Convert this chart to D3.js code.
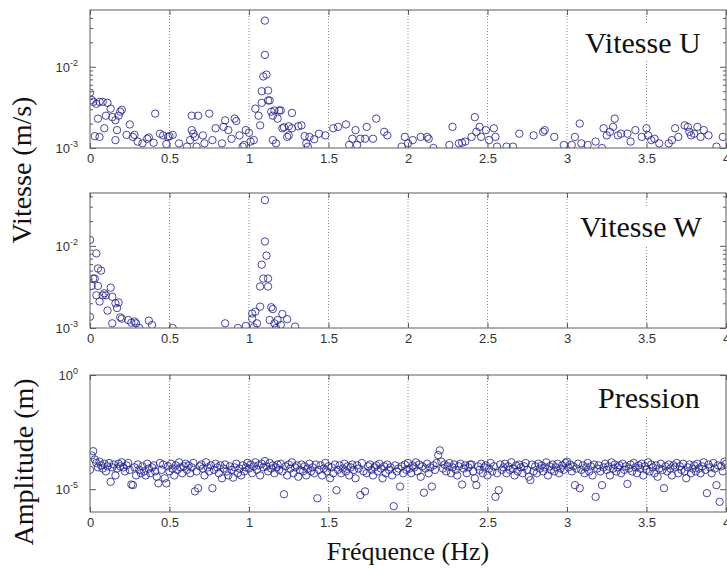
<!DOCTYPE html>
<html>
<head>
<meta charset="utf-8">
<script src="https://cdn.jsdelivr.net/npm/d3@7"></script>
<style>
    body { margin: 0; background: #fff; }
</style>
</head>
<body>
<div class="chart"></div>
<script>
// Size of the picture
const width = 727;
const height = 569;

// Frequency ticks (Hz)
const xTicks = [0, 0.5, 1, 1.5, 2, 2.5, 3, 3.5, 4];

// Vitesse U : [frequence (Hz), vitesse (x 1e-3 m/s)]
const vitesseU = [
    [0.00, 4.8], [0.01, 3.9], [0.02, 3.7], [0.03, 1.4], [0.04, 3.5], [0.05, 2.3], [0.06, 3.7], [0.06, 1.37],
    [0.08, 3.7], [0.09, 1.75], [0.10, 2.5], [0.11, 3.6], [0.13, 3.05], [0.14, 2.4], [0.16, 2.2], [0.16, 1.25],
    [0.17, 1.66], [0.18, 2.5], [0.19, 2.8], [0.20, 2.95], [0.23, 1.45], [0.25, 1.95], [0.27, 1.37], [0.28, 1.45],
    [0.30, 1.2], [0.33, 1.14], [0.36, 1.3], [0.37, 1.35], [0.40, 1.16], [0.41, 2.65], [0.44, 1.5], [0.46, 1.43],
    [0.48, 1.12], [0.49, 1.37], [0.50, 1.4], [0.52, 1.45], [0.56, 1.14], [0.61, 1.04], [0.63, 1.25], [0.64, 1.66],
    [0.64, 2.5], [0.65, 1.5], [0.66, 1.37], [0.67, 1.04], [0.68, 2.5], [0.71, 1.43], [0.72, 1.14], [0.75, 2.65],
    [0.77, 1.25], [0.79, 1.75], [0.83, 1.14], [0.84, 1.82], [0.85, 2.19], [0.87, 1.66], [0.89, 1.3], [0.91, 2.3],
    [0.92, 2.15], [0.94, 1.43], [0.96, 1.04], [0.97, 1.09], [0.98, 1.66], [1.00, 1.54], [1.01, 1.2], [1.03, 1.25],
    [1.04, 3.05], [1.06, 2.5], [1.07, 1.9], [1.08, 3.6], [1.08, 5.0], [1.09, 7.6], [1.10, 14], [1.10, 37],
    [1.11, 8.0], [1.12, 5.1], [1.12, 3.85], [1.13, 3.85], [1.14, 2.8], [1.15, 2.5], [1.15, 1.25], [1.16, 2.9],
    [1.17, 1.14], [1.18, 2.3], [1.19, 2.9], [1.20, 2.9], [1.21, 1.75], [1.22, 1.8], [1.24, 1.37], [1.25, 1.85],
    [1.25, 1.43], [1.27, 2.7], [1.27, 1.75], [1.31, 1.85], [1.33, 1.9], [1.35, 1.4], [1.36, 1.14], [1.37, 1.04],
    [1.38, 1.37], [1.41, 1.28], [1.44, 1.5], [1.48, 1.43], [1.53, 1.75], [1.56, 1.82], [1.61, 1.95], [1.63, 1.09],
    [1.65, 1.3], [1.67, 1.66], [1.68, 1.09], [1.70, 1.3], [1.73, 1.3], [1.74, 1.82], [1.78, 1.3], [1.80, 2.3],
    [1.85, 1.58], [1.87, 1.43], [1.96, 1.04], [1.98, 1.37], [2.00, 1.14], [2.03, 1.25], [2.08, 1.37], [2.12, 1.37],
    [2.13, 1.3], [2.16, 1.0], [2.26, 1.09], [2.28, 1.82], [2.32, 1.14], [2.34, 1.16], [2.36, 1.2], [2.40, 1.37],
    [2.42, 2.4], [2.43, 1.58], [2.45, 1.82], [2.46, 1.37], [2.49, 1.66], [2.51, 1.25], [2.54, 1.75], [2.55, 1.37],
    [2.56, 1.04], [2.62, 1.04], [2.66, 1.04], [2.70, 1.5], [2.79, 1.43], [2.85, 1.58], [2.86, 1.66], [2.92, 1.37],
    [2.98, 1.09], [3.03, 1.09], [3.05, 1.37], [3.08, 2.0], [3.09, 1.14], [3.13, 1.09], [3.18, 1.2], [3.22, 1.0],
    [3.23, 1.75], [3.25, 1.43], [3.27, 1.58], [3.29, 1.82], [3.30, 2.3], [3.32, 1.43], [3.34, 1.5], [3.38, 1.5],
    [3.40, 1.2], [3.43, 1.66], [3.47, 1.37], [3.50, 1.75], [3.51, 1.43], [3.53, 1.25], [3.55, 1.3], [3.58, 1.14],
    [3.64, 1.14], [3.66, 1.25], [3.68, 1.75], [3.70, 1.37], [3.74, 1.9], [3.76, 1.82], [3.77, 1.58], [3.78, 1.43],
    [3.80, 1.5], [3.82, 1.82], [3.84, 1.37], [3.86, 1.66], [3.89, 1.43], [3.94, 1.04], [3.98, 1.37]
];

// Vitesse W : [frequence (Hz), vitesse (x 1e-3 m/s)]
const vitesseW = [
    [0.00, 11.8], [0.00, 1.37], [0.01, 3.25], [0.02, 4.0], [0.03, 4.0], [0.04, 8.1], [0.04, 2.5], [0.05, 3.25],
    [0.05, 5.3], [0.06, 2.1], [0.07, 5.0], [0.08, 2.5], [0.09, 2.65], [0.10, 2.5], [0.11, 1.63], [0.13, 3.1],
    [0.14, 2.4], [0.14, 1.14], [0.16, 2.0], [0.17, 1.75], [0.18, 2.05], [0.19, 1.35], [0.20, 1.3], [0.24, 1.25],
    [0.26, 1.16], [0.28, 1.2], [0.29, 1.14], [0.31, 1.0], [0.37, 1.23], [0.39, 1.09], [0.52, 1.0], [0.85, 1.14],
    [0.93, 1.0], [0.98, 1.06], [1.02, 1.3], [1.02, 1.5], [1.03, 1.02], [1.04, 1.58], [1.05, 1.14], [1.07, 1.82],
    [1.07, 3.2], [1.08, 5.9], [1.09, 4.0], [1.10, 11.3], [1.10, 36], [1.11, 7.6], [1.12, 4.0], [1.12, 3.2],
    [1.13, 1.25], [1.14, 1.79], [1.15, 1.7], [1.16, 1.14], [1.17, 1.0], [1.18, 1.25], [1.20, 1.09], [1.21, 1.48],
    [1.24, 1.28], [1.29, 1.04]
];

// Pression : amplitude (x 1e-5 m), one value every 0.01 Hz from 0 to 4 Hz
const pressionStep = 0.01;
const pression = [
    7, 30, 46, 20, 14, 9, 16, 11, 8, 13, 6, 10, 14, 2.1, 9, 12, 4, 8, 13, 10,
    15, 9, 6, 11, 14, 7, 1.6, 1.5, 9, 4, 12, 7, 5, 10, 6, 4, 13, 8, 5, 9,
    11, 6, 3.5, 1.8, 14, 7, 12, 3, 1.8, 10, 6, 13, 8, 4, 11, 7, 15, 9, 5, 10,
    13, 7, 11, 5, 9, 14, 0.8, 6, 1.1, 10, 12, 8, 4, 15, 9, 6, 11, 1.1, 7, 13,
    9, 5, 11, 3, 8, 12, 6, 4, 10, 7, 3.2, 9, 13, 5, 8, 4, 11, 6, 9, 14,
    8, 12, 5, 10, 15, 7, 11, 4, 13, 9, 17, 10, 6, 14, 8, 11, 5, 9, 12, 7,
    13, 6, 0.6, 10, 4, 12, 8, 15, 5, 9, 11, 3.5, 7, 12, 6, 10, 4, 8, 13, 6,
    9, 5, 12, 0.4, 7, 11, 4, 8, 14, 6, 10, 3, 9, 5, 12, 0.9, 7, 11, 5, 8,
    13, 6, 10, 4, 9, 12, 7, 3, 11, 8, 0.55, 14, 6, 0.8, 5, 10, 12, 7, 4, 9,
    11, 6, 13, 8, 3, 10, 5, 12, 7, 9, 4, 0.18, 11, 6, 8, 1.3, 10, 5, 12, 7,
    14, 8, 5, 11, 9, 15, 6, 12, 3.5, 10, 0.7, 8, 13, 5, 9, 1.3, 11, 7, 14, 31,
    50, 16, 8, 12, 6, 10, 14, 5, 9, 12, 7, 4, 10, 13, 1.6, 8, 11, 5, 9, 12,
    12, 6, 3, 1.5, 10, 7, 13, 5, 9, 11, 4, 8, 14, 6, 10, 0.46, 5, 0.9, 12, 7,
    9, 13, 5, 10, 7, 15, 8, 4, 11, 6, 12, 9, 5, 10, 14, 7, 3.5, 2.5, 12, 6,
    10, 5, 13, 8, 11, 6, 9, 15, 4, 10, 7, 12, 6, 9, 13, 5, 8, 11, 7, 14,
    16, 9, 12, 6, 10, 1.5, 8, 13, 1.1, 7, 11, 5, 9, 14, 6, 10, 4, 12, 0.46, 8,
    11, 6, 1.5, 9, 13, 7, 10, 4, 15, 8, 12, 6, 9, 11, 5, 13, 7, 10, 1.7, 8,
    12, 6, 14, 9, 5, 11, 8, 13, 4, 10, 7, 15, 6, 12, 9, 5, 11, 3.5, 8, 13,
    7, 1.1, 10, 6, 12, 8, 4, 11, 9, 14, 5, 10, 7, 13, 6, 3, 9, 12, 5, 8,
    11, 6, 13, 8, 5, 10, 15, 7, 0.67, 12, 9, 5, 14, 8, 1.5, 11, 0.28, 10, 6, 16,
    13
];

// Panel titles
const titles = ["Vitesse U", "Vitesse W", "Pression"];

// Layout of the three panels
const panels = [
    {
        top: 10, bottom: 148, domain: [1e-3, 5e-2],
        points: vitesseU.map(d => [d[0], d[1] * 1e-3]),
        major: [1e-3, 1e-2], minor: [2, 3, 4, 5, 6, 7, 8, 9].map(k => k * 1e-3).concat([2e-2, 3e-2, 4e-2]),
        labels: [[1e-3, "-3"], [1e-2, "-2"]], titleX: 585, titleY: 53
    },
    {
        top: 193, bottom: 328, domain: [1e-3, 4.4e-2],
        points: vitesseW.map(d => [d[0], d[1] * 1e-3]),
        major: [1e-3, 1e-2], minor: [2, 3, 4, 5, 6, 7, 8, 9].map(k => k * 1e-3).concat([2e-2, 3e-2, 4e-2]),
        labels: [[1e-3, "-3"], [1e-2, "-2"]], titleX: 580, titleY: 237
    },
    {
        top: 375, bottom: 512, domain: [1e-6, 1],
        points: pression.map((v, i) => [i * pressionStep, v * 1e-5]),
        major: [1e-5, 1], minor: [],
        labels: [[1e-5, "-5"], [1, "0"]], titleX: 598, titleY: 408
    }
];

const left = 90;
const right = 726;
const axisColor = "#5c5c5c";
const markColor = "#1c1c8a";
const sans = "Liberation Sans, Arial, sans-serif";
const serif = "Liberation Serif, Times New Roman, serif";

// Create SVG
let svg = d3.select(".chart").append("svg")
    .attr("width", width)
    .attr("height", height);

// x scale shared by all panels
const xScale = d3.scaleLinear()
    .domain([0, 4])
    .range([left, right]);

panels.forEach((p, i) => {
    const yScale = d3.scaleLog()
        .domain(p.domain)
        .range([p.bottom, p.top]);

    const g = svg.append("g");

    // clip the marks to the axes box
    svg.append("clipPath").attr("id", "clip" + i)
        .append("rect")
        .attr("x", left).attr("y", p.top)
        .attr("width", right - left).attr("height", p.bottom - p.top);

    // dotted vertical grid
    g.selectAll(".grid")
        .data(xTicks.filter(t => t > 0 && t < 4))
        .enter().append("line")
        .attr("x1", d => xScale(d)).attr("x2", d => xScale(d))
        .attr("y1", p.top).attr("y2", p.bottom)
        .attr("stroke", "#8a8a8a")
        .attr("stroke-width", 1)
        .attr("stroke-dasharray", "1,2");

    // circles
    g.append("g")
        .attr("clip-path", `url(#clip${i})`)
        .selectAll("circle")
        .data(p.points)
        .enter().append("circle")
        .attr("cx", d => xScale(d[0]))
        .attr("cy", d => yScale(d[1]))
        .attr("r", 3.7)
        .attr("fill", "none")
        .attr("stroke", markColor)
        .attr("stroke-opacity", 0.8)
        .attr("stroke-width", 1);

    // bottom axis with ticks pointing inward
    const bottomAxis = g.append("g")
        .attr("transform", `translate(0, ${p.bottom})`)
        .call(d3.axisBottom(xScale).tickValues(xTicks).tickSize(-5).tickPadding(6).tickFormat(d3.format("")));
    bottomAxis.select(".domain").remove();
    bottomAxis.selectAll("line").attr("stroke", axisColor);
    bottomAxis.selectAll("text")
        .attr("fill", "#333")
        .style("font-family", sans)
        .style("font-size", "13px");

    // top axis ticks
    const topAxis = g.append("g")
        .attr("transform", `translate(0, ${p.top})`)
        .call(d3.axisTop(xScale).tickValues(xTicks).tickSize(-5).tickFormat(""));
    topAxis.select(".domain").remove();
    topAxis.selectAll("line").attr("stroke", axisColor);

    // left and right log ticks
    [[d3.axisLeft, left], [d3.axisRight, right]].forEach(([axisFn, xPos]) => {
        const minorAxis = g.append("g")
            .attr("transform", `translate(${xPos}, 0)`)
            .call(axisFn(yScale).tickValues(p.minor).tickSize(-3).tickFormat(""));
        minorAxis.select(".domain").remove();
        minorAxis.selectAll("line").attr("stroke", axisColor);

        const majorAxis = g.append("g")
            .attr("transform", `translate(${xPos}, 0)`)
            .call(axisFn(yScale).tickValues(p.major).tickSize(-6).tickFormat(""));
        majorAxis.select(".domain").remove();
        majorAxis.selectAll("line").attr("stroke", axisColor);
    });

    // y tick labels as powers of ten
    p.labels.forEach(([v, exp]) => {
        const t = g.append("text")
            .attr("x", left - 12)
            .attr("y", yScale(v) + 5)
            .attr("text-anchor", "end")
            .attr("fill", "#333")
            .style("font-family", sans)
            .style("font-size", "13px");
        t.append("tspan").text("10");
        t.append("tspan")
            .attr("dy", -6)
            .style("font-size", "9px")
            .text(exp);
    });

    // panel title on a white box
    const titleBox = g.append("rect").attr("fill", "#fff");
    const title = g.append("text")
        .attr("x", p.titleX)
        .attr("y", p.titleY)
        .attr("fill", "#111")
        .style("font-family", serif)
        .style("font-size", "30px")
        .text(titles[i]);
    const bb = title.node().getBBox();
    titleBox.attr("x", bb.x - 6).attr("y", bb.y - 2)
        .attr("width", bb.width + 12).attr("height", bb.height + 4);

    // axes box
    g.append("rect")
        .attr("x", left).attr("y", p.top)
        .attr("width", right - left).attr("height", p.bottom - p.top)
        .attr("fill", "none")
        .attr("stroke", axisColor)
        .attr("stroke-width", 1);
});

// Axis titles
svg.append("text")
    .attr("transform", `translate(31, 170) rotate(-90)`)
    .attr("text-anchor", "middle")
    .attr("fill", "#111")
    .style("font-family", serif)
    .style("font-size", "28px")
    .text("Vitesse (m/s)");

svg.append("text")
    .attr("transform", `translate(33, 462) rotate(-90)`)
    .attr("text-anchor", "middle")
    .attr("fill", "#111")
    .style("font-family", serif)
    .style("font-size", "28px")
    .text("Amplitude (m)");

svg.append("text")
    .attr("x", (left + right) / 2)
    .attr("y", 560)
    .attr("text-anchor", "middle")
    .attr("fill", "#111")
    .style("font-family", serif)
    .style("font-size", "26px")
    .text("Fréquence (Hz)");
</script>
</body>
</html>
